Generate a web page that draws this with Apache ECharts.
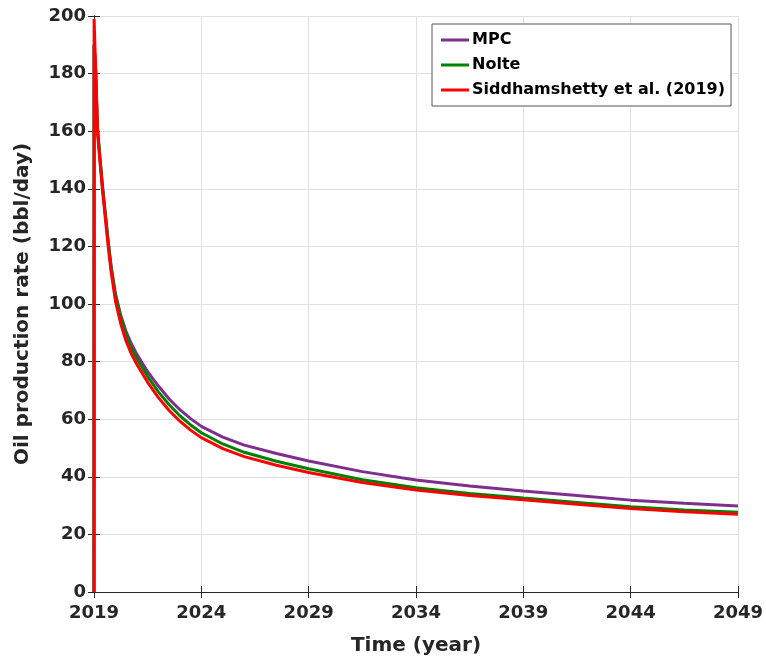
<!DOCTYPE html>
<html>
<head>
<meta charset="utf-8">
<script src="https://cdn.jsdelivr.net/npm/echarts@6/dist/echarts.min.js"></script>
<style>
    html, body { margin: 0; padding: 0; background: #fff; }
    #chart { width: 766px; height: 662px; }
</style>
</head>
<body>
<div id="chart"></div>
<script>
    // years since 2019
    var tYears = [0, 0.005, 0.08, 0.16, 0.26, 0.39, 0.66, 0.8, 1, 1.25, 1.5, 1.75, 2, 2.5, 3, 3.5, 4, 4.5, 5, 6, 7, 8.5, 10, 12.5, 15, 17.5, 20, 22.5, 25, 27.5, 30];
    var mpc   = [0, 190, 181, 161.5, 152.5, 141.5, 122, 113, 103.5, 96, 90.3, 86, 82.5, 76.5, 71.5, 67.0, 63.3, 60.2, 57.5, 53.8, 51.0, 48.1, 45.5, 41.8, 38.9, 36.8, 35.1, 33.5, 31.9, 30.8, 29.9];
    var nolte = [0, 190, 181, 161, 152, 141, 121.5, 112.5, 103, 95, 89, 84.5, 81, 74.8, 69.5, 65.0, 61.2, 58.0, 55.3, 51.4, 48.5, 45.4, 42.8, 39.0, 36.2, 34.2, 32.6, 31.1, 29.6, 28.5, 27.7];
    var sidd  = [0, 199, 180, 160, 151, 140, 120, 111, 101, 93, 87, 82.5, 79, 72.8, 67.5, 63.0, 59.3, 56.2, 53.6, 49.8, 47.0, 44.0, 41.5, 38.0, 35.4, 33.5, 32.0, 30.5, 29.0, 27.9, 27.0];
    var startYear = 2019;
    var seriesNames = ['MPC', 'Nolte', 'Siddhamshetty et al. (2019)'];

    function pairs(vals) {
        return tYears.map(function (t, i) { return [t, vals[i]]; });
    }

    var font = 'DejaVu Sans';
    var axisColor = '#262626';

    var option = {
        animation: false,
        backgroundColor: '#fff',
        color: ['#7E2F8E', '#008000', '#FF0000'],
        grid: { left: 94, right: 26, top: 16, bottom: 70 },
        legend: {
            data: seriesNames,
            orient: 'vertical',
            right: 35,
            top: 24,
            icon: 'rect',
            itemWidth: 28,
            itemHeight: 3,
            itemGap: 9,
            padding: [8, 6, 8, 9],
            backgroundColor: '#fff',
            borderColor: '#555',
            borderWidth: 1,
            textStyle: { fontFamily: font, fontWeight: 'bold', fontSize: 16, color: '#000', padding: [0, 0, 0, -2] }
        },
        xAxis: [
            {
                type: 'value', min: 0, max: 30, interval: 5,
                name: 'Time (year)', nameLocation: 'middle', nameGap: 44,
                nameTextStyle: { fontFamily: font, fontWeight: 'bold', fontSize: 20, color: '#262626' },
                axisLine: { lineStyle: { color: axisColor, width: 1 } },
                axisTick: { inside: true, length: 6, lineStyle: { color: axisColor } },
                axisLabel: {
                    margin: 12, fontFamily: font, fontWeight: 'bold', fontSize: 18, color: '#262626',
                    formatter: function (v) { return startYear + v; }
                },
                splitLine: { show: true, lineStyle: { color: '#e0e0e0', width: 1 } }
            },
            {
                type: 'value', min: 0, max: 30, interval: 5, position: 'top',
                axisLine: { lineStyle: { color: axisColor, width: 1 } },
                axisTick: { inside: true, length: 6, lineStyle: { color: axisColor } },
                axisLabel: { show: false },
                splitLine: { show: false }
            }
        ],
        yAxis: [
            {
                type: 'value', min: 0, max: 200, interval: 20,
                name: 'Oil production rate (bbl/day)', nameLocation: 'middle', nameGap: 61,
                nameTextStyle: { fontFamily: font, fontWeight: 'bold', fontSize: 20, color: '#262626' },
                axisLine: { show: true, lineStyle: { color: axisColor, width: 1 } },
                axisTick: { show: true, inside: true, length: 6, lineStyle: { color: axisColor } },
                axisLabel: { margin: 8, fontFamily: font, fontWeight: 'bold', fontSize: 18, color: '#262626' },
                splitLine: { show: true, lineStyle: { color: '#e0e0e0', width: 1 } }
            },
            {
                type: 'value', min: 0, max: 200, interval: 20, position: 'right',
                axisLine: { show: true, lineStyle: { color: axisColor, width: 1 } },
                axisTick: { show: true, inside: true, length: 6, lineStyle: { color: axisColor } },
                axisLabel: { show: false },
                splitLine: { show: false }
            }
        ],
        series: [
            { name: seriesNames[0], type: 'line', showSymbol: false, data: pairs(mpc), lineStyle: { width: 3 } },
            { name: seriesNames[1], type: 'line', showSymbol: false, data: pairs(nolte), lineStyle: { width: 3 } },
            { name: seriesNames[2], type: 'line', showSymbol: false, data: pairs(sidd), lineStyle: { width: 3 } }
        ]
    };

    var chart = echarts.init(document.getElementById('chart'));
    chart.setOption(option);
</script>
</body>
</html>
